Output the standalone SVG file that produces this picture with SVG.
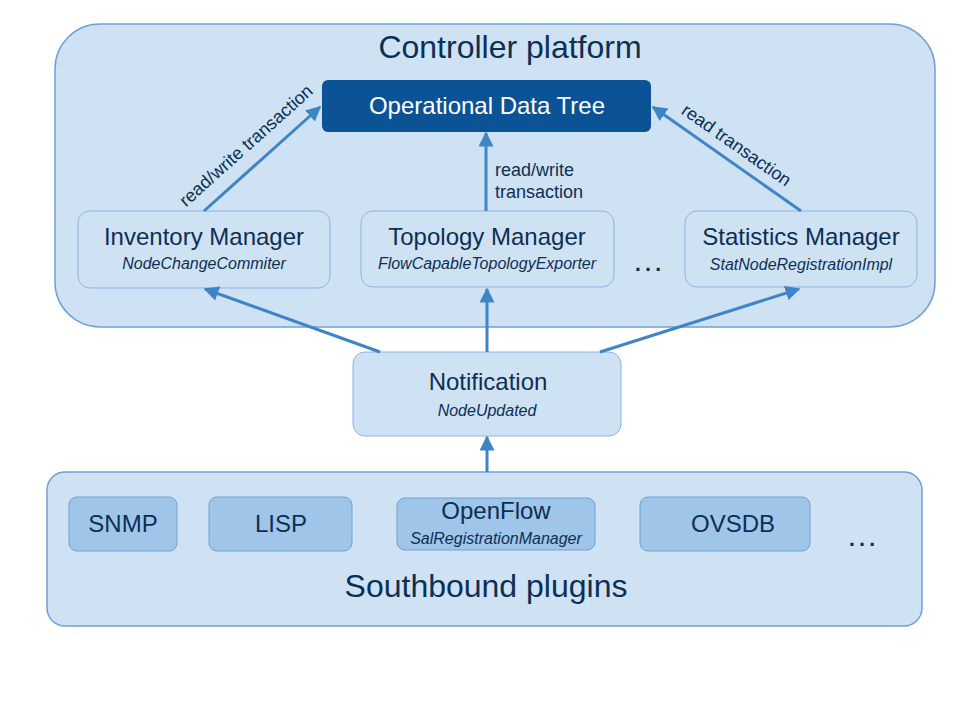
<svg xmlns="http://www.w3.org/2000/svg" width="960" height="720" viewBox="0 0 960 720">
<defs>
<marker id="ah" viewBox="0 0 10 10" refX="9" refY="5" markerWidth="5" markerHeight="5" orient="auto" markerUnits="strokeWidth">
<path d="M0,0 L10,5 L0,10 z" fill="#3d85c6"/>
</marker>
<style>
text{font-family:"Liberation Sans",Arial,sans-serif;fill:#0c2f55}
.cont{fill:#cfe2f3;stroke:#6fa0d8;stroke-width:1.5}
.node{fill:#cfe2f3;stroke:#8eb4e3;stroke-width:1}
.plug{fill:#9fc5e8;stroke:#6fa0d8;stroke-width:1}
.big{font-size:32px;text-anchor:middle}
.t{font-size:24px;text-anchor:middle}
.s{font-size:16px;font-style:italic;text-anchor:middle}
.lbl{font-size:18px}
.edge{stroke:#3d85c6;stroke-width:3;fill:none;marker-end:url(#ah)}
</style>
</defs>
<rect width="960" height="720" fill="#ffffff"/>
<g id="controller">
<rect class="cont" x="55" y="24" width="880" height="303" rx="45"/>
<text class="big" x="510" y="58">Controller platform</text>
</g>
<g id="southbound">
<rect class="cont" x="47" y="472" width="875" height="154" rx="18"/>
<text class="big" x="486" y="597">Southbound plugins</text>
</g>
<g id="odt">
<rect x="322" y="80" width="329" height="52" rx="6" fill="#0b5394"/>
<text class="t" x="487" y="114" style="fill:#ffffff">Operational Data Tree</text>
</g>
<g id="inventory">
<rect class="node" x="78" y="211" width="252" height="77" rx="12"/>
<text class="t" x="204" y="245">Inventory Manager</text>
<text class="s" x="204" y="269">NodeChangeCommiter</text>
</g>
<g id="topology">
<rect class="node" x="361" y="211" width="253" height="76" rx="12"/>
<text class="t" x="487" y="245">Topology Manager</text>
<text class="s" x="487" y="269">FlowCapableTopologyExporter</text>
</g>
<g id="dots1"><text class="t" x="648" y="271" style="font-size:32px">…</text></g>
<g id="statistics">
<rect class="node" x="685" y="211" width="232" height="76" rx="12"/>
<text class="t" x="801" y="245">Statistics Manager</text>
<text class="s" x="801" y="270">StatNodeRegistrationImpl</text>
</g>
<g id="notification">
<rect class="node" x="353" y="352" width="268" height="84" rx="12"/>
<text class="t" x="488" y="390">Notification</text>
<text class="s" x="487" y="416">NodeUpdated</text>
</g>
<g id="snmp">
<rect class="plug" x="69" y="497" width="108" height="54" rx="8"/>
<text class="t" x="123" y="532">SNMP</text>
</g>
<g id="lisp">
<rect class="plug" x="209" y="497" width="143" height="54" rx="8"/>
<text class="t" x="281" y="532">LISP</text>
</g>
<g id="openflow">
<rect class="plug" x="397" y="498" width="198" height="52" rx="8"/>
<text class="t" x="496" y="519">OpenFlow</text>
<text class="s" x="496" y="544">SalRegistrationManager</text>
</g>
<g id="ovsdb">
<rect class="plug" x="640" y="497" width="170" height="54" rx="8"/>
<text class="t" x="733" y="532">OVSDB</text>
</g>
<g id="dots2"><text class="t" x="862" y="546" style="font-size:32px">…</text></g>
<g id="connectors">
<line class="edge" x1="204" y1="211" x2="320" y2="107"/>
<line class="edge" x1="486" y1="211" x2="486" y2="133"/>
<line class="edge" x1="801" y1="211" x2="653" y2="107"/>
<line class="edge" x1="380" y1="352" x2="205" y2="289"/>
<line class="edge" x1="487" y1="352" x2="487" y2="289"/>
<line class="edge" x1="600" y1="352" x2="799" y2="289"/>
<line class="edge" x1="487" y1="472" x2="487" y2="437"/>
<text class="lbl" text-anchor="middle" transform="translate(250,150) rotate(-41.9)">read/write transaction</text>
<text class="lbl" x="495" y="176">read/write</text>
<text class="lbl" x="495" y="198">transaction</text>
<text class="lbl" text-anchor="middle" transform="translate(733,150) rotate(35.1)">read transaction</text>
</g>
</svg>
